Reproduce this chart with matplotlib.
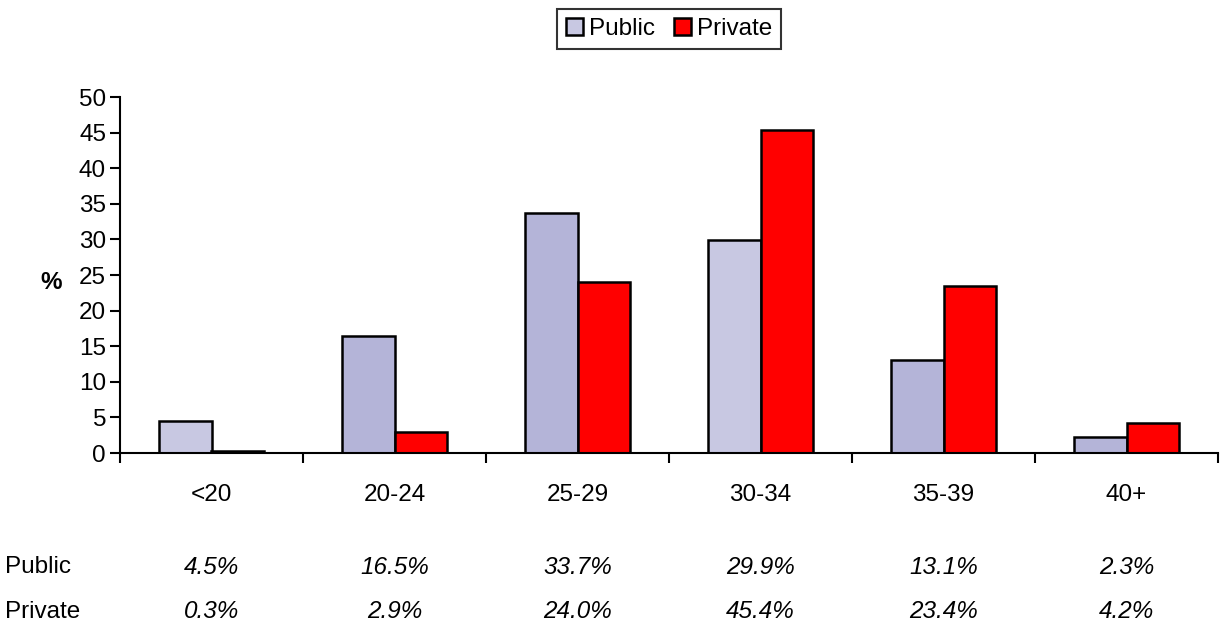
import numpy as np
import matplotlib.pyplot as plt
import matplotlib.transforms as mtransforms

plt.rcParams['font.family'] = ['Liberation Sans', 'DejaVu Sans']

categories = ['<20', '20-24', '25-29', '30-34', '35-39', '40+']
public = [4.5, 16.5, 33.7, 29.9, 13.1, 2.3]
private = [0.3, 2.9, 24.0, 45.4, 23.4, 4.2]
public_colors = ['#c8c8e2', '#b4b4d8', '#b4b4d8', '#c8c8e2', '#b4b4d8', '#b4b4d8']

fs = 17.5
fig = plt.figure(figsize=(12.21, 6.33), dpi=100)
ax = fig.add_axes([120 / 1221, 1 - 453 / 633, 1098 / 1221, 356 / 633])

x = np.arange(len(categories))
w = 0.285
ax.bar(x + 0.5 - w / 2, public, w, color=public_colors, edgecolor='black', linewidth=1.8,
       label='Public')
ax.bar(x + 0.5 + w / 2, private, w, color='#ff0000', edgecolor='black', linewidth=1.8,
       label='Private')

ax.set_xlim(0, len(categories))
ax.set_ylim(0, 50)
ax.set_yticks(range(0, 51, 5))
ax.set_xticks(range(len(categories) + 1))
ax.set_xticklabels([])
ax.set_xticks(x + 0.5, minor=True)
ax.set_xticklabels(categories, minor=True)
ax.tick_params(axis='x', which='minor', length=0, pad=22, labelsize=fs)
ax.tick_params(axis='x', which='major', length=7, width=1.5, direction='out')
ax.tick_params(axis='y', length=7, width=1.5, labelsize=fs, pad=3)
for s in ['top', 'right']:
    ax.spines[s].set_visible(False)
for s in ['left', 'bottom']:
    ax.spines[s].set_linewidth(1.5)

ax.set_ylabel('%', rotation=0, fontsize=fs, fontweight='bold', va='center')
ax.yaxis.set_label_coords(-0.063, 0.48)

leg = ax.legend(loc='center', bbox_to_anchor=(669 / 1221, 1 - 29 / 633),
                bbox_transform=fig.transFigure, ncol=2, fontsize=fs,
                frameon=True, fancybox=False, edgecolor='black',
                handlelength=0.7, handleheight=0.7, handletextpad=0.25,
                columnspacing=0.8, borderpad=0.35, borderaxespad=0)
leg.get_frame().set_linewidth(1.5)
for h in leg.legend_handles:
    h.set_linewidth(1.8)
leg.legend_handles[0].set_facecolor('#c8c8e2')

# data table below the chart
trans = mtransforms.blended_transform_factory(ax.transData, fig.transFigure)
for label, vals, ypix in [('Public', public, 567), ('Private', private, 612)]:
    fig.text(5 / 1221, 1 - ypix / 633, label, fontsize=fs, va='center', ha='left')
    for xi, v in zip(x, vals):
        ax.text(xi + 0.5, 1 - ypix / 633, f'{v:.1f}%', fontsize=fs, style='italic',
                va='center', ha='center', transform=trans)

fig.savefig('out.png', dpi=100)
